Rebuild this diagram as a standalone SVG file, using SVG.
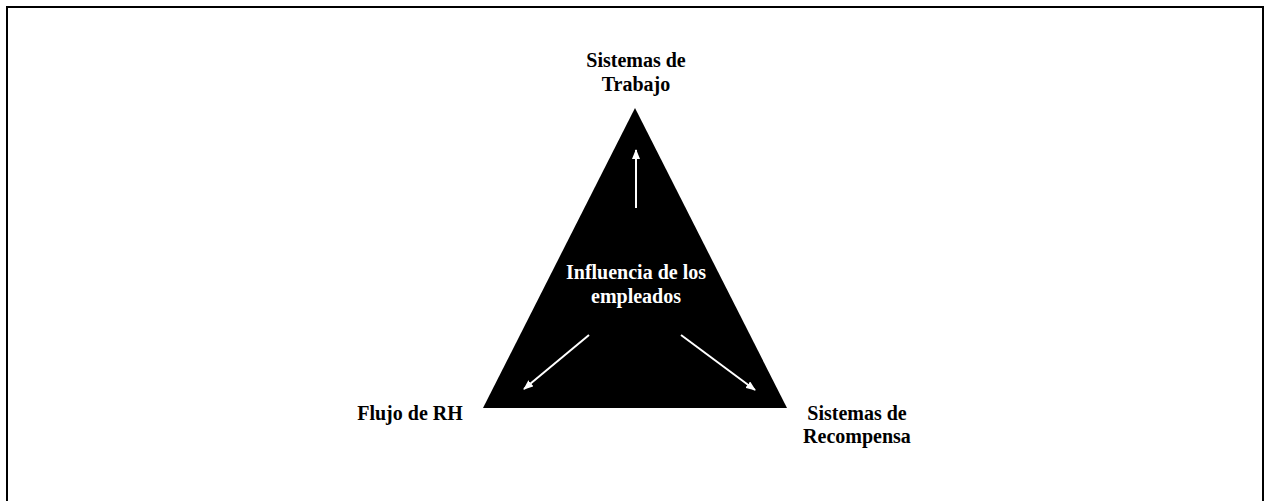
<svg xmlns="http://www.w3.org/2000/svg" width="1269" height="501" viewBox="0 0 1269 501">
<style>
.lbl{font-family:"Liberation Serif","Times New Roman",serif;font-weight:bold;font-size:20px;text-anchor:middle;fill:#000}
.wlbl{font-family:"Liberation Serif","Times New Roman",serif;font-weight:bold;font-size:20px;text-anchor:middle;fill:#fff}
.arr{stroke:#fff;stroke-width:2;fill:none;marker-end:url(#ah)}
</style>
<defs>
<marker id="ah" markerWidth="10" markerHeight="8" refX="9" refY="4" orient="auto" markerUnits="userSpaceOnUse">
<path d="M0,0 L10,4 L0,8 Z" fill="#fff"/>
</marker>
</defs>
<rect x="0" y="0" width="1269" height="501" fill="#fff"/>
<rect x="7" y="7" width="1256" height="510" fill="none" stroke="#000" stroke-width="2"/>
<g id="triangle">
<polygon points="635,108 483,408 787,408" fill="#000"/>
<text class="wlbl" x="636" y="279">Influencia de los</text>
<text class="wlbl" x="636" y="303">empleados</text>
</g>
<g id="connectors">
<line class="arr" x1="636" y1="208" x2="636" y2="150"/>
<line class="arr" x1="589" y1="335" x2="524" y2="389"/>
<line class="arr" x1="681" y1="335" x2="755" y2="390"/>
</g>
<g id="trabajo">
<text class="lbl" x="636" y="67">Sistemas de</text>
<text class="lbl" x="636" y="91">Trabajo</text>
</g>
<g id="flujo">
<text class="lbl" x="410" y="420">Flujo de RH</text>
</g>
<g id="recompensa">
<text class="lbl" x="857" y="420">Sistemas de</text>
<text class="lbl" x="857" y="443">Recompensa</text>
</g>
</svg>
